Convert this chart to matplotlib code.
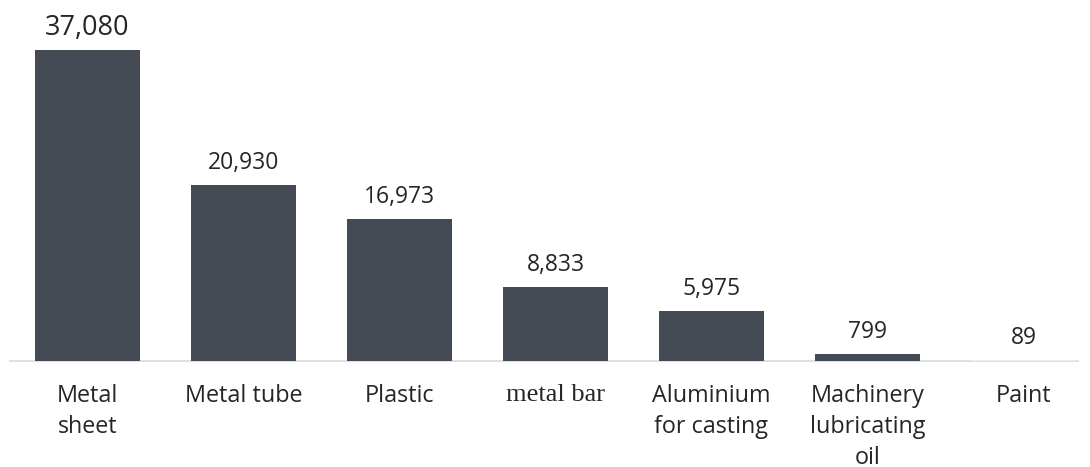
import matplotlib.pyplot as plt

categories = ["Metal\nsheet", "Metal tube", "Plastic", "metal bar",
              "Aluminium\nfor casting", "Machinery\nlubricating\noil", "Paint"]
values = [37080, 20930, 16973, 8833, 5975, 799, 89]
value_labels = ["37,080", "20,930", "16,973", "8,833", "5,975", "799", "89"]

bar_color = "#434a54"
sans = ["Open Sans", "DejaVu Sans"]

fig = plt.figure(figsize=(10.9, 4.67), dpi=100)
ax = fig.add_axes([0, 106 / 467, 1, 361 / 467])

x = list(range(len(categories)))
colors = [bar_color] * (len(values) - 1) + ["#e9ecef"]
ax.bar(x, values, width=0.673, color=colors, zorder=3)

ax.set_xlim(-87.5 / 156, (1090 - 87.5) / 156)
ax.set_ylim(0, 43043)

# baseline
ax.plot([-77.5 / 156, (1078 - 87.5) / 156], [0, 0], color="#dde1e6",
        linewidth=1.5, zorder=2, clip_on=False)

for i, (v, lab) in enumerate(zip(values, value_labels)):
    size = 19.5 if i == 0 else 16.5
    pad = 8 if i == 0 else 10
    ax.annotate(lab, (i, v), xytext=(0, pad), textcoords="offset pixels",
                ha="center", va="bottom", fontsize=size, family=sans,
                color="#262626")

for i, cat in enumerate(categories):
    if cat == "metal bar":
        fam = ["Liberation Serif", "DejaVu Serif"]
        size = 19
    else:
        fam = sans
        size = 16.8
    ax.annotate(cat, (i, 0), xytext=(0, -23), textcoords="offset pixels",
                ha="center", va="top", fontsize=size, family=fam,
                color="#262626", linespacing=1.4, annotation_clip=False)

ax.axis("off")

fig.savefig("out.png", dpi=100)
